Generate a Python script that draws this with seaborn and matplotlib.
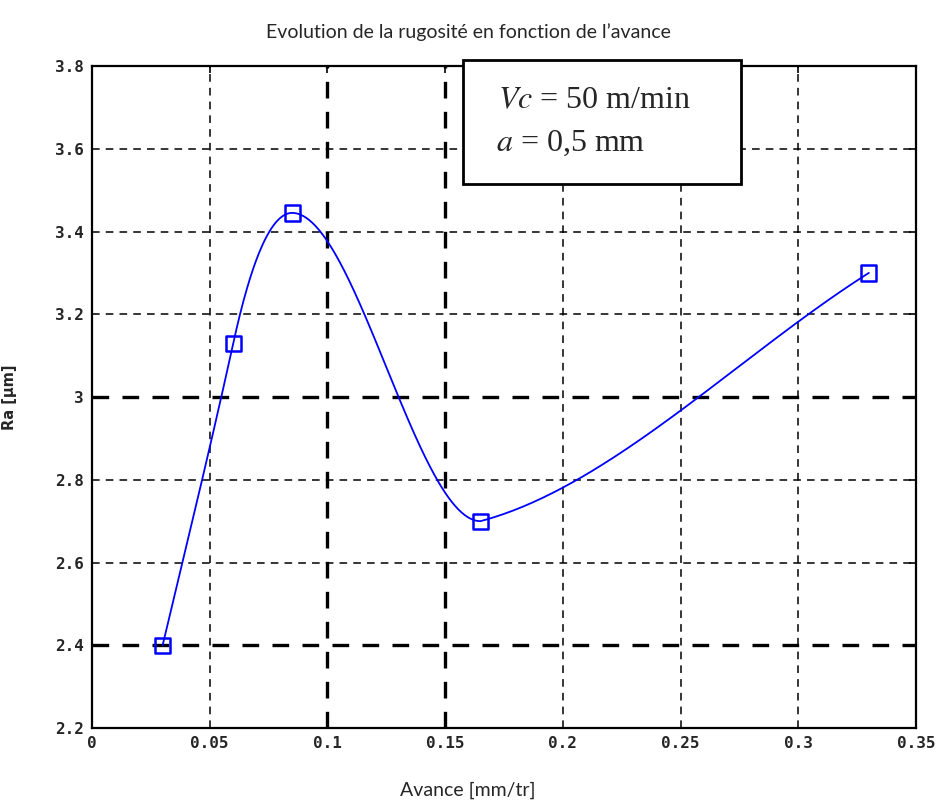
import numpy as np
import pandas as pd
import matplotlib
matplotlib.use("Agg")
import matplotlib.pyplot as plt
import seaborn as sns
from matplotlib.patches import Rectangle

# ---- data ----
avance = [0.03, 0.06, 0.085, 0.165, 0.33]
ra = [2.40, 3.13, 3.445, 2.70, 3.30]
# tangent slopes of the smooth drawn curve at each point (incoming / outgoing)
slope_in = [24.0, 26.0, 0.0, 0.0, 3.6]
slope_out = [24.0, 26.0, 0.0, 1.5, 3.6]
xticks = [0, 0.05, 0.1, 0.15, 0.2, 0.25, 0.3, 0.35]
xticklabels = ["0", "0.05", "0.1", "0.15", "0.2", "0.25", "0.3", "0.35"]
yticks = [2.2, 2.4, 2.6, 2.8, 3.0, 3.2, 3.4, 3.6, 3.8]
yticklabels = ["2.2", "2.4", "2.6", "2.8", "3", "3.2", "3.4", "3.6", "3.8"]


def hermite_curve(x, y, d_out, d_in, per_seg=120):
    xs_all, ys_all = [], []
    for k in range(len(x) - 1):
        h = x[k + 1] - x[k]
        t = np.linspace(0, 1, per_seg)
        h00 = 2 * t**3 - 3 * t**2 + 1
        h10 = t**3 - 2 * t**2 + t
        h01 = -2 * t**3 + 3 * t**2
        h11 = t**3 - t**2
        ys = h00 * y[k] + h10 * h * d_out[k] + h01 * y[k + 1] + h11 * h * d_in[k + 1]
        xs_all.append(x[k] + t * h)
        ys_all.append(ys)
    return np.concatenate(xs_all), np.concatenate(ys_all)


sns.set_style("white")
plt.rcParams["mathtext.fontset"] = "stix"

fig = plt.figure(figsize=(9.36, 8.11), dpi=100)
ax = fig.add_axes([0.0983, 0.1023, 0.8803, 0.8163])

xs, ys = hermite_curve(avance, ra, slope_out, slope_in)
curve = pd.DataFrame({"x": xs, "y": ys})
pts = pd.DataFrame({"x": avance, "y": ra})
sns.lineplot(data=curve, x="x", y="y", ax=ax, color="#0000ff", lw=1.3, sort=False, zorder=3)
sns.scatterplot(data=pts, x="x", y="y", ax=ax, marker="s", s=120,
                facecolor="none", edgecolor="#0000ff", linewidth=1.8, zorder=4)

ax.set_xlim(0, 0.35)
ax.set_ylim(2.2, 3.8)
ax.set_xticks(xticks)
ax.set_xticklabels(xticklabels)
ax.set_yticks(yticks)
ax.set_yticklabels(yticklabels)

# dashed grid (thicker lines mimic the scan's heavier gridlines)
heavy_x = [0.1, 0.15]
heavy_y = [2.4, 3.0]
for xv in xticks[1:-1]:
    ax.axvline(xv, color="black", lw=2.4 if xv in heavy_x else 1.1,
               ls=(0, (5, 4)), zorder=1)
for yv in yticks[1:-1]:
    ax.axhline(yv, color="black", lw=2.4 if yv in heavy_y else 1.1,
               ls=(0, (5, 4)), zorder=1)

for sp in ax.spines.values():
    sp.set_color("black")
    sp.set_linewidth(1.6)
ax.tick_params(axis="both", direction="in", length=5, width=1.2, color="black",
               top=True, right=True, labelsize=11.5, pad=6)
for lab in ax.get_xticklabels() + ax.get_yticklabels():
    lab.set_fontweight("bold")
    lab.set_fontfamily("DejaVu Sans Mono")

ax.set_xlabel("")
ax.set_ylabel("Ra [µm]", fontsize=10.5, fontweight="bold", fontfamily="DejaVu Sans")
ax.yaxis.set_label_coords(-0.091, 0.5)

fig.text(0.5, 0.961, "Evolution de la rugosité en fonction de l\u2019avance",
         ha="center", va="center", fontsize=14, fontfamily="Lato")
fig.text(0.5, 0.026, "Avance [mm/tr]", ha="center", va="center",
         fontsize=14, fontfamily="Lato")

# annotation box
box = Rectangle((0.1576, 3.515), 0.118, 0.30, transform=ax.transData,
                facecolor="white", edgecolor="black", lw=2.0, zorder=5, clip_on=False)
ax.add_patch(box)
ax.text(0.1725, 3.717, r"$Vc$ = 50 m/min", fontsize=23, fontfamily="Liberation Serif",
        va="center", ha="left", zorder=6)
ax.text(0.1715, 3.612, r"$a$ = 0,5 mm", fontsize=23, fontfamily="Liberation Serif",
        va="center", ha="left", zorder=6)

fig.savefig("out.png", dpi=100, facecolor="white")
